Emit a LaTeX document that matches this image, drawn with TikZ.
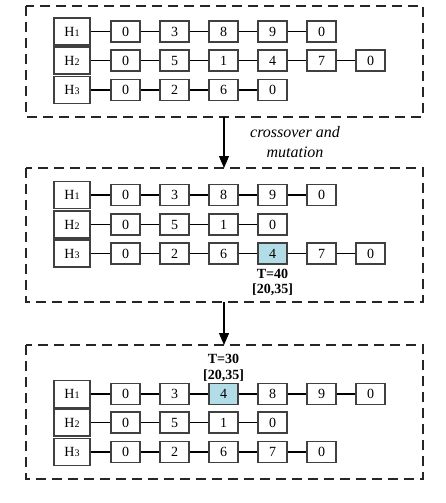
\documentclass[tikz,border=0pt]{standalone}
\usepackage{fontspec}
\setmainfont{Liberation Serif}
\usetikzlibrary{arrows.meta}
\newcommand\hsub[1]{{\fontsize{10}{10}\selectfont #1}}
\definecolor{lightblue}{HTML}{B2DCE6}
\begin{document}
\begin{tikzpicture}[x=1pt,y=-1pt,
  hbox/.style={draw=black!75,line width=1.2pt,minimum width=36pt,minimum height=27pt,inner sep=0pt,font=\fontsize{14}{14}\selectfont},
  cell/.style={draw=black!75,line width=1.2pt,minimum width=29pt,minimum height=21pt,inner sep=0pt,font=\fontsize{14}{14}\selectfont},
  hcell/.style={cell,fill=lightblue},
  group/.style={draw=black!85,line width=1.3pt,dash pattern=on 10pt off 6pt},
  link/.style={draw=black,line width=1.2pt},
  flow/.style={draw=black,line width=1.3pt,-{Triangle[length=12pt,width=10pt]}},
  note/.style={font=\bfseries\fontsize{14}{14}\selectfont,inner sep=0pt},
]
\fill[white] (0,0) rectangle (446,503);
\useasboundingbox (0,0) rectangle (446,503);

% group frames
\draw[group] (26,6) rectangle (423,117);
\draw[group] (26,168) rectangle (423,302);
\draw[group] (26,345) rectangle (423,479);
\coordinate (g1b) at (224,117);
\coordinate (g2t) at (224,168);
\coordinate (g2b) at (224,302);
\coordinate (g3t) at (224,345);

% chains
\newcommand\chain[4]{% #1 prefix, #2 y, #3 H index, #4 list
  \node[hbox] (#1-0) at (72,#2) {H\hsub{#3}};
  \foreach \v/\s [count=\i, remember=\i as \j (initially 0)] in {#4} {
    \node[\s] (#1-\i) at ({76.5+49*\i},#2) {\v};
    \draw[link] (#1-\j) -- (#1-\i);
  }
}
\chain{a}{31.5}{1}{0/cell,3/cell,8/cell,9/cell,0/cell}
\chain{b}{60.5}{2}{0/cell,5/cell,1/cell,4/cell,7/cell,0/cell}
\chain{c}{90}{3}{0/cell,2/cell,6/cell,0/cell}

\chain{d}{195}{1}{0/cell,3/cell,8/cell,9/cell,0/cell}
\chain{e}{224.5}{2}{0/cell,5/cell,1/cell,0/cell}
\chain{f}{253.5}{3}{0/cell,2/cell,6/cell,4/hcell,7/cell,0/cell}
\node[note] (t40) at (272.5,273.5) {T=40};
\node[note] (r40) at (272.5,290) {[20,35]};

\chain{g}{394}{1}{0/cell,3/cell,4/hcell,8/cell,9/cell,0/cell}
\chain{h}{422.5}{2}{0/cell,5/cell,1/cell,0/cell}
\chain{k}{452}{3}{0/cell,2/cell,6/cell,7/cell,0/cell}
\node[note] (t30) at (223.5,358.5) {T=30};
\node[note] (r30) at (223.5,375.5) {[20,35]};

% flow arrows
\draw[flow] (g1b) -- (g2t);
\draw[flow] (g2b) -- (g3t);
\node[font=\itshape\fontsize{16}{20}\selectfont,align=center,inner sep=0pt] (lab) at (295,142) {crossover and\\mutation};
\end{tikzpicture}
\end{document}
